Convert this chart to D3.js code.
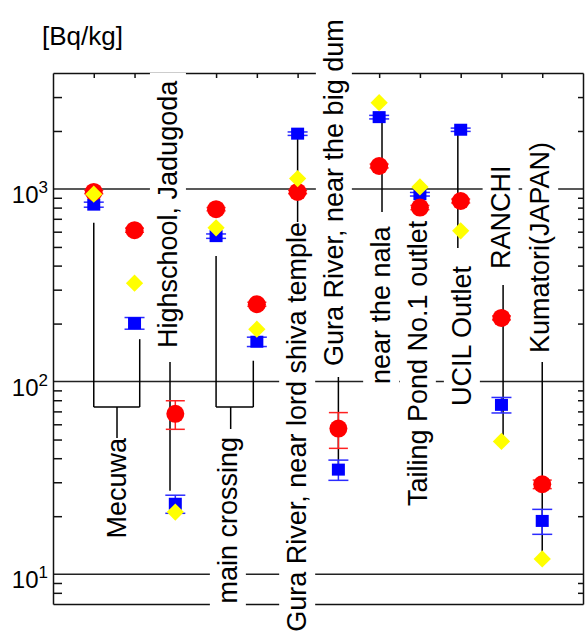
<!DOCTYPE html>
<html>
<head>
<meta charset="utf-8">
<script src="https://cdn.jsdelivr.net/npm/d3@7"></script>
<style>
  body { margin: 0; background: #fff; }
  text { font-family: "Liberation Sans", Arial, sans-serif; fill: #000; }
</style>
</head>
<body>
<script>
var w = 586;
var h = 631;

// sampling sites, one column each (index 1..12)
var siteIndex = d3.range(1, 13);
var siteNames = ["Mecuwa", "Mecuwa", "Highschool, Jadugoda", "main crossing", "main crossing",
    "Gura River, near lord shiva temple", "Gura River, near the big dum", "near the nala",
    "Tailing Pond No.1 outlet", "UCIL Outlet", "RANCHI", "Kumatori(JAPAN)"];

// [Bq/kg] values
var redValues    = [965, 611, 68, 785, 252, 965, 57, 1316, 801, 866, 214, 29.3];
var redErrors    = [20, 15, 11.5, 15, 6, 20, 12, 30, 20, 20, 5, 1.5];
var blueValues   = [829, 201, 23.2, 569, 161, 1937, 34.9, 2360, 939, 2030, 75.7, 18.9];
var blueErrors   = [25, 14, 2.5, 15, 9, 40, 4.2, 50, 20, 40, 7, 2.8];
var yellowValues = [940, 324, 21, 628, 187, 1132, null, 2805, 1024, 606, 48.9, 12.0];

var gridValues = [10, 100, 1000];

var plotL = 53, plotR = 583, plotT = 73, plotB = 604;

var svg = d3.select("body")
    .append("svg")
    .attr("width", w)
    .attr("height", h);

var xScale = d3.scaleLinear().domain([0, 13]).range([plotL, plotR]);
var yScale = d3.scaleLog().domain([7, 4000]).range([plotB, plotT]);

// minor ticks 2..9 in every decade
var minorTicks = [];
[1, 10, 100, 1000].forEach(function (d) {
    for (var k = 2; k <= 9; k++) {
        var v = k * d;
        if (v > 7 && v < 4000) minorTicks.push(v);
    }
});

// grid lines
svg.append("g").selectAll("line")
    .data(gridValues)
    .join("line")
    .attr("x1", plotL).attr("x2", plotR)
    .attr("y1", d => yScale(d)).attr("y2", d => yScale(d))
    .attr("stroke", "#222").attr("stroke-width", 1.5);

// axes / frame
var yAxisL = d3.axisLeft(yScale).tickValues(minorTicks).tickSize(-9).tickSizeOuter(0).tickFormat("");
var yAxisR = d3.axisRight(yScale).tickValues(minorTicks).tickSize(-5).tickSizeOuter(0).tickFormat("");
var xAxisT = d3.axisTop(xScale).tickValues(siteIndex).tickSize(-5).tickSizeOuter(0).tickFormat("");
var xAxisB = d3.axisBottom(xScale).tickValues([]).tickSizeOuter(0);

svg.append("g").attr("transform", "translate(" + plotL + ",0)").call(yAxisL);
svg.append("g").attr("transform", "translate(" + plotR + ",0)").call(yAxisR);
svg.append("g").attr("transform", "translate(0," + plotT + ")").call(xAxisT);
svg.append("g").attr("transform", "translate(0," + plotB + ")").call(xAxisB);
svg.selectAll(".domain, .tick line").attr("stroke", "#111").attr("stroke-width", 1.5);

// y labels 10^n
var ylab = svg.append("g").selectAll("text")
    .data(gridValues)
    .join("text")
    .attr("x", 48)
    .attr("y", d => yScale(d) + 14)
    .attr("text-anchor", "end")
    .attr("font-size", "24px");
ylab.append("tspan").text("10");
ylab.append("tspan").attr("dy", -10).attr("font-size", "17px").text(d => Math.round(Math.log10(d)));

svg.append("text")
    .attr("x", 42).attr("y", 45)
    .attr("font-size", "26px")
    .text("[Bq/kg]");

// site labels (rotated), pos in column units
var labelLayout = [
    { name: siteNames[0],  pos: 1.79,  anchor: "end",   y: 438 },
    { name: siteNames[2],  pos: 3.04,  anchor: "start", y: 348 },
    { name: siteNames[3],  pos: 4.51,  anchor: "end",   y: 437 },
    { name: siteNames[5],  pos: 6.21,  anchor: "end",   y: 222 },
    { name: siteNames[6],  pos: 7.11,  anchor: "start", y: 366 },
    { name: siteNames[7],  pos: 8.27,  anchor: "start", y: 384 },
    { name: siteNames[8],  pos: 9.17,  anchor: "start", y: 506 },
    { name: siteNames[9],  pos: 10.25, anchor: "start", y: 406 },
    { name: siteNames[10], pos: 11.2,  anchor: "start", y: 269 },
    { name: siteNames[11], pos: 12.17, anchor: "start", y: 353 }
];

var lab = svg.append("g").selectAll("g")
    .data(labelLayout)
    .join("g")
    .attr("transform", d => "translate(" + xScale(d.pos) + "," + d.y + ") rotate(-90)");
lab.append("rect").attr("fill", "#fff");
lab.append("text")
    .attr("text-anchor", d => d.anchor)
    .attr("font-size", "27px")
    .text(d => d.name);
lab.each(function () {
    var g = d3.select(this);
    var bb = g.select("text").node().getBBox();
    g.select("rect")
        .attr("x", bb.x - 7).attr("y", bb.y - 3)
        .attr("width", bb.width + 14).attr("height", bb.height + 6);
});

// leader lines: [pos1, y1, pos2, y2]
var yb = 407;
var leaders = [
    [1, yScale(blueValues[0]) + 18, 1, yb],
    [2.127, yScale(blueValues[1]) + 16, 2.127, yb],
    [1, yb, 2.127, yb],
    [1.57, yb, 1.57, 438],
    [2.87, 362, 2.87, yScale(blueValues[2]) - 13],
    [4, yScale(blueValues[3]) + 20, 4, yb],
    [4.913, yScale(blueValues[4]) + 19, 4.913, yb],
    [4, yb, 4.913, yb],
    [4.358, yb, 4.358, 429],
    [6, yScale(blueValues[5]), 6, 222],
    [7, 377, 7, yScale(blueValues[6])],
    [8.07, yScale(blueValues[7]), 8.07, 212],
    [9.93, yScale(blueValues[9]), 9.93, 248],
    [11.04, 285, 11.04, yScale(yellowValues[10])],
    [12, 362, 12, yScale(yellowValues[11])]
];
svg.append("g").selectAll("line")
    .data(leaders)
    .join("line")
    .attr("x1", d => xScale(d[0])).attr("y1", d => d[1])
    .attr("x2", d => xScale(d[2])).attr("y2", d => d[3])
    .attr("stroke", "#000").attr("stroke-width", 1.5);

// error bars helper
function errorBars(values, errors, color, capW) {
    var g = svg.append("g").attr("stroke", color).attr("stroke-width", 1.5);
    var data = values.map((v, i) => ({ i: siteIndex[i], v: v, e: errors[i] }));
    g.selectAll("line.v").data(data).join("line").attr("class", "v")
        .attr("x1", d => xScale(d.i)).attr("x2", d => xScale(d.i))
        .attr("y1", d => yScale(d.v + d.e)).attr("y2", d => yScale(d.v - d.e));
    g.selectAll("line.t").data(data).join("line").attr("class", "t")
        .attr("x1", d => xScale(d.i) - capW / 2).attr("x2", d => xScale(d.i) + capW / 2)
        .attr("y1", d => yScale(d.v + d.e)).attr("y2", d => yScale(d.v + d.e));
    g.selectAll("line.b").data(data).join("line").attr("class", "b")
        .attr("x1", d => xScale(d.i) - capW / 2).attr("x2", d => xScale(d.i) + capW / 2)
        .attr("y1", d => yScale(d.v - d.e)).attr("y2", d => yScale(d.v - d.e));
}

// blue squares
errorBars(blueValues, blueErrors, "#2b2bff", 20);
svg.append("g").selectAll("rect")
    .data(blueValues)
    .join("rect")
    .attr("x", (d, i) => xScale(siteIndex[i]) - 6.5)
    .attr("y", d => yScale(d) - 6)
    .attr("width", 13).attr("height", 12)
    .attr("fill", "#0000ff");

// red circles
errorBars(redValues, redErrors, "#ff2020", 19);
svg.append("g").selectAll("circle")
    .data(redValues)
    .join("circle")
    .attr("cx", (d, i) => xScale(siteIndex[i]))
    .attr("cy", d => yScale(d))
    .attr("r", 9)
    .attr("fill", "#ff0000");

// yellow diamonds
var diamond = d3.symbol().type(d3.symbolDiamond2).size(190);
svg.append("g").selectAll("path")
    .data(yellowValues.map((v, i) => ({ i: siteIndex[i], v: v })).filter(d => d.v != null))
    .join("path")
    .attr("d", diamond)
    .attr("transform", d => "translate(" + xScale(d.i) + "," + yScale(d.v) + ")")
    .attr("fill", "#ffff00");
</script>
</body>
</html>
